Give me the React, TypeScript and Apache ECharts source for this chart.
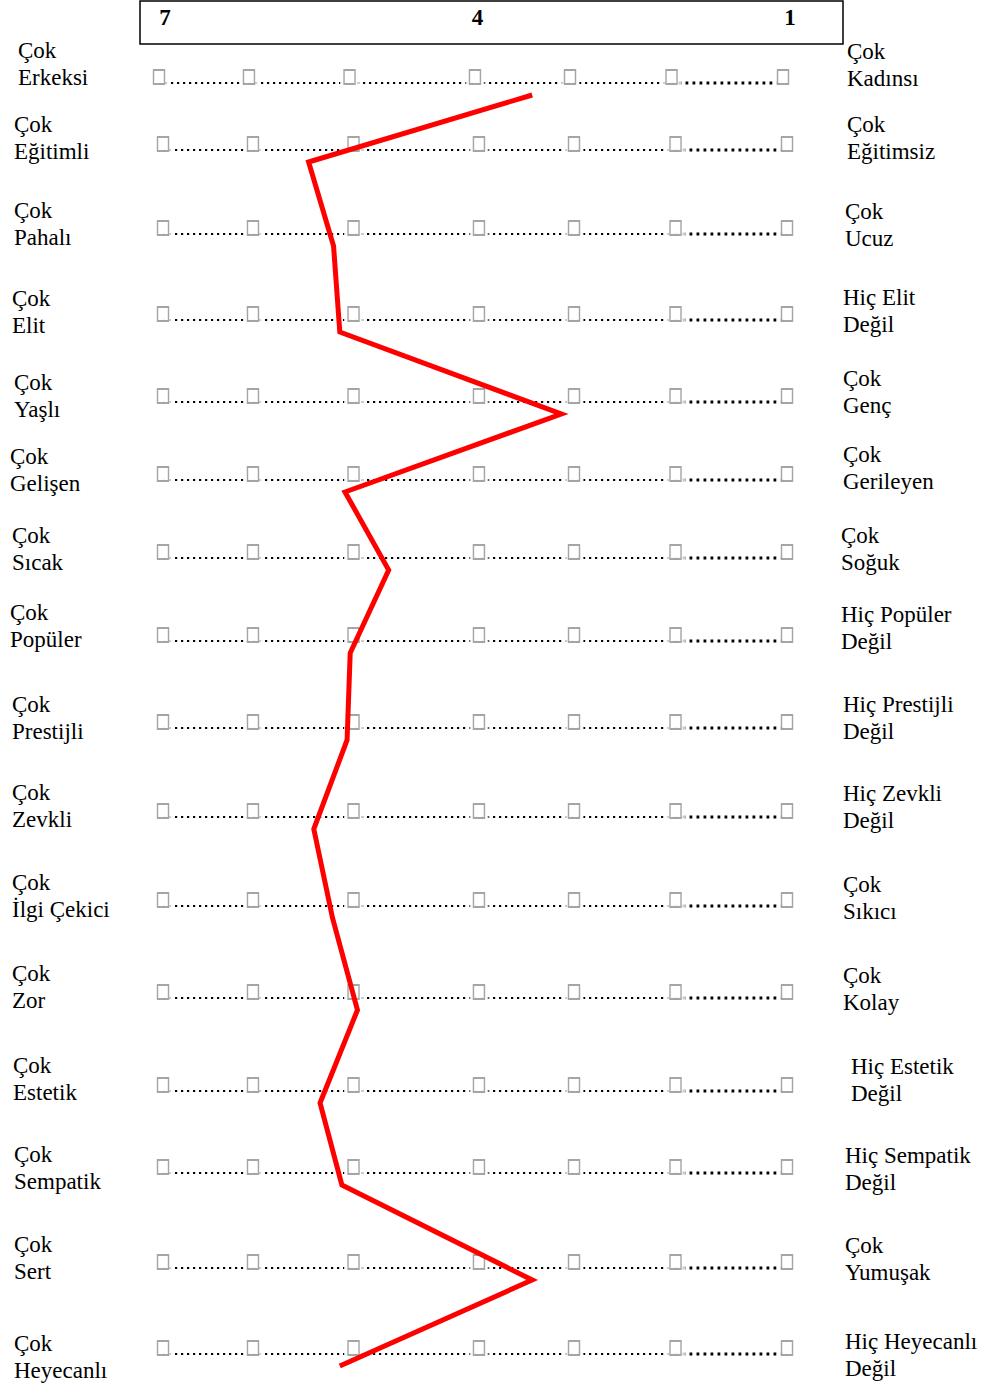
import React, { useEffect, useRef } from "react";
import * as echarts from "echarts";

// ---------- data ----------
const scaleLabels = [7, 4, 1];
const leftPoles = [
  "Çok\nErkeksi",
  "Çok\nEğitimli",
  "Çok\nPahalı",
  "Çok\nElit",
  "Çok\nYaşlı",
  "Çok\nGelişen",
  "Çok\nSıcak",
  "Çok\nPopüler",
  "Çok\nPrestijli",
  "Çok\nZevkli",
  "Çok\nİlgi Çekici",
  "Çok\nZor",
  "Çok\nEstetik",
  "Çok\nSempatik",
  "Çok\nSert",
  "Çok\nHeyecanlı",
];
const rightPoles = [
  "Çok\nKadınsı",
  "Çok\nEğitimsiz",
  "Çok\nUcuz",
  "Hiç Elit\nDeğil",
  "Çok\nGenç",
  "Çok\nGerileyen",
  "Çok\nSoğuk",
  "Hiç Popüler\nDeğil",
  "Hiç Prestijli\nDeğil",
  "Hiç Zevkli\nDeğil",
  "Çok\nSıkıcı",
  "Çok\nKolay",
  "Hiç Estetik\nDeğil",
  "Hiç Sempatik\nDeğil",
  "Çok\nYumuşak",
  "Hiç Heyecanlı\nDeğil",
];
const meanScores = [3.45, 5.6, 5.36, 5.3, 3.17, 5.25, 4.83, 5.2, 5.23, 5.55, 5.37, 5.13, 5.49, 5.28, 3.45, 5.3];
const boxMarks = [7, 6.135, 5.168, 3.962, 3.048, 2.072, 1];

// ---------- layout ----------
const W = 986;
const H = 1388;
const AXIS_LEFT = 163;
const AXIS_RIGHT = 787;
const rowLineY = [83, 150, 234, 320, 402, 480, 558, 641, 728, 817, 906, 998, 1091, 1173, 1268, 1354];
const rowShiftX = [-4, 0, 0, 0, 0, 0, 0, 0, 0, 0, 0, 0, 0, 0, 0, 0];
const leftLabelX = [18, 14, 14, 12, 14, 10, 12, 10, 12, 12, 12, 12, 13, 14, 14, 14];
const leftLabelY = [64, 138, 224, 312, 396, 470, 549, 626, 718, 806, 896, 987, 1079, 1168, 1258, 1357];
const rightLabelX = [847, 847, 845, 843, 843, 843, 841, 841, 843, 843, 843, 843, 851, 845, 845, 845];
const rightLabelY = [65, 138, 225, 311, 392, 468, 549, 628, 718, 807, 898, 989, 1080, 1169, 1259, 1355];
const LINE_DROP = 12;
const FONT = "'Liberation Serif', 'Times New Roman', Times, serif";
const LABEL_SIZE = 23;

export default function App() {
  const ref = useRef<HTMLDivElement>(null);

  useEffect(() => {
    if (!ref.current) return;
    const chart = echarts.init(ref.current, null, { renderer: "svg" });

    const grids: any[] = [];
    const xAxes: any[] = [];
    const yAxes: any[] = [];
    const series: any[] = [];

    // header scale
    grids.push({ left: 165, right: W - 790, top: 0, height: 17 });
    xAxes.push({
      gridIndex: 0,
      type: "value",
      min: 1,
      max: 7,
      interval: 3,
      inverse: true,
      position: "bottom",
      axisLine: { show: false },
      axisTick: { show: false },
      splitLine: { show: false },
      axisLabel: {
        margin: 0,
        verticalAlign: "middle",
        fontFamily: FONT,
        fontSize: 23,
        fontWeight: "bold",
        color: "#000",
        formatter: (v: number) => (scaleLabels.includes(v) ? String(v) : ""),
      },
    });
    yAxes.push({ gridIndex: 0, type: "value", min: 0, max: 1, show: false });

    leftPoles.forEach((_, i) => {
      const gi = i + 1;
      grids.push({
        left: AXIS_LEFT + rowShiftX[i],
        right: W - AXIS_RIGHT - rowShiftX[i],
        top: rowLineY[i] - 10,
        height: 20,
      });
      xAxes.push({ gridIndex: gi, type: "value", min: 1, max: 7, inverse: true, show: false });
      yAxes.push({ gridIndex: gi, type: "category", data: ["row"], show: false });
      series.push({
        type: "line",
        xAxisIndex: gi,
        yAxisIndex: gi,
        silent: true,
        symbol: "none",
        z: 2,
        lineStyle: { color: "#000", width: 2.2, type: [2.2, 3.8], cap: "butt" },
        data: boxMarks.slice(0, 6).map((v) => [v, 0]),
      });
      series.push({
        type: "line",
        xAxisIndex: gi,
        yAxisIndex: gi,
        silent: true,
        symbol: "none",
        z: 2,
        lineStyle: { color: "#000", width: 2.8, type: [2.8, 4.2], cap: "butt" },
        data: boxMarks.slice(5).map((v) => [v, 0]),
      });
      series.push({
        type: "scatter",
        xAxisIndex: gi,
        yAxisIndex: gi,
        silent: true,
        symbol: "rect",
        symbolSize: [19, 8],
        z: 3,
        itemStyle: { color: "#fff" },
        data: boxMarks.map((v) => [v, 0]),
      });
      series.push({
        type: "scatter",
        xAxisIndex: gi,
        yAxisIndex: gi,
        silent: true,
        symbol: "rect",
        symbolSize: [11, 14],
        symbolOffset: [0, -6],
        z: 4,
        itemStyle: { color: "#fff", borderColor: "#8e8e8e", borderWidth: 1.6 },
        data: boxMarks.map((v) => [v, 0]),
      });
    });

    chart.setOption({
      animation: false,
      backgroundColor: "#fff",
      grid: grids,
      xAxis: xAxes,
      yAxis: yAxes,
      series,
    });

    const points = meanScores.map((s, i) => {
      const p = chart.convertToPixel({ gridIndex: i + 1 } as any, [s, 0]) as number[];
      return [p[0] - rowShiftX[i], p[1] + LINE_DROP];
    });

    const graphics: any[] = [
      {
        type: "rect",
        shape: { x: 140, y: 1, width: 703, height: 43 },
        style: { fill: "none", stroke: "#000", lineWidth: 1.5 },
        z: 1,
      },
    ];
    const addLabel = (t: string, x: number, y: number) =>
      graphics.push({
        type: "text",
        x,
        y,
        style: {
          text: t,
          fontFamily: FONT,
          fontSize: LABEL_SIZE,
          lineHeight: 27,
          fill: "#000",
          align: "left",
          verticalAlign: "middle",
        },
      });
    leftPoles.forEach((t, i) => addLabel(t, leftLabelX[i], leftLabelY[i]));
    rightPoles.forEach((t, i) => addLabel(t, rightLabelX[i], rightLabelY[i]));
    graphics.push({
      type: "polyline",
      z: 100,
      shape: { points },
      style: { stroke: "#ff0000", lineWidth: 5, fill: "none", lineJoin: "miter" },
    });

    chart.setOption({ graphic: graphics });

    return () => chart.dispose();
  }, []);

  return (
    <div
      ref={ref}
      style={{ position: "absolute", left: 0, top: 0, width: W, height: H, background: "#fff" }}
    />
  );
}
